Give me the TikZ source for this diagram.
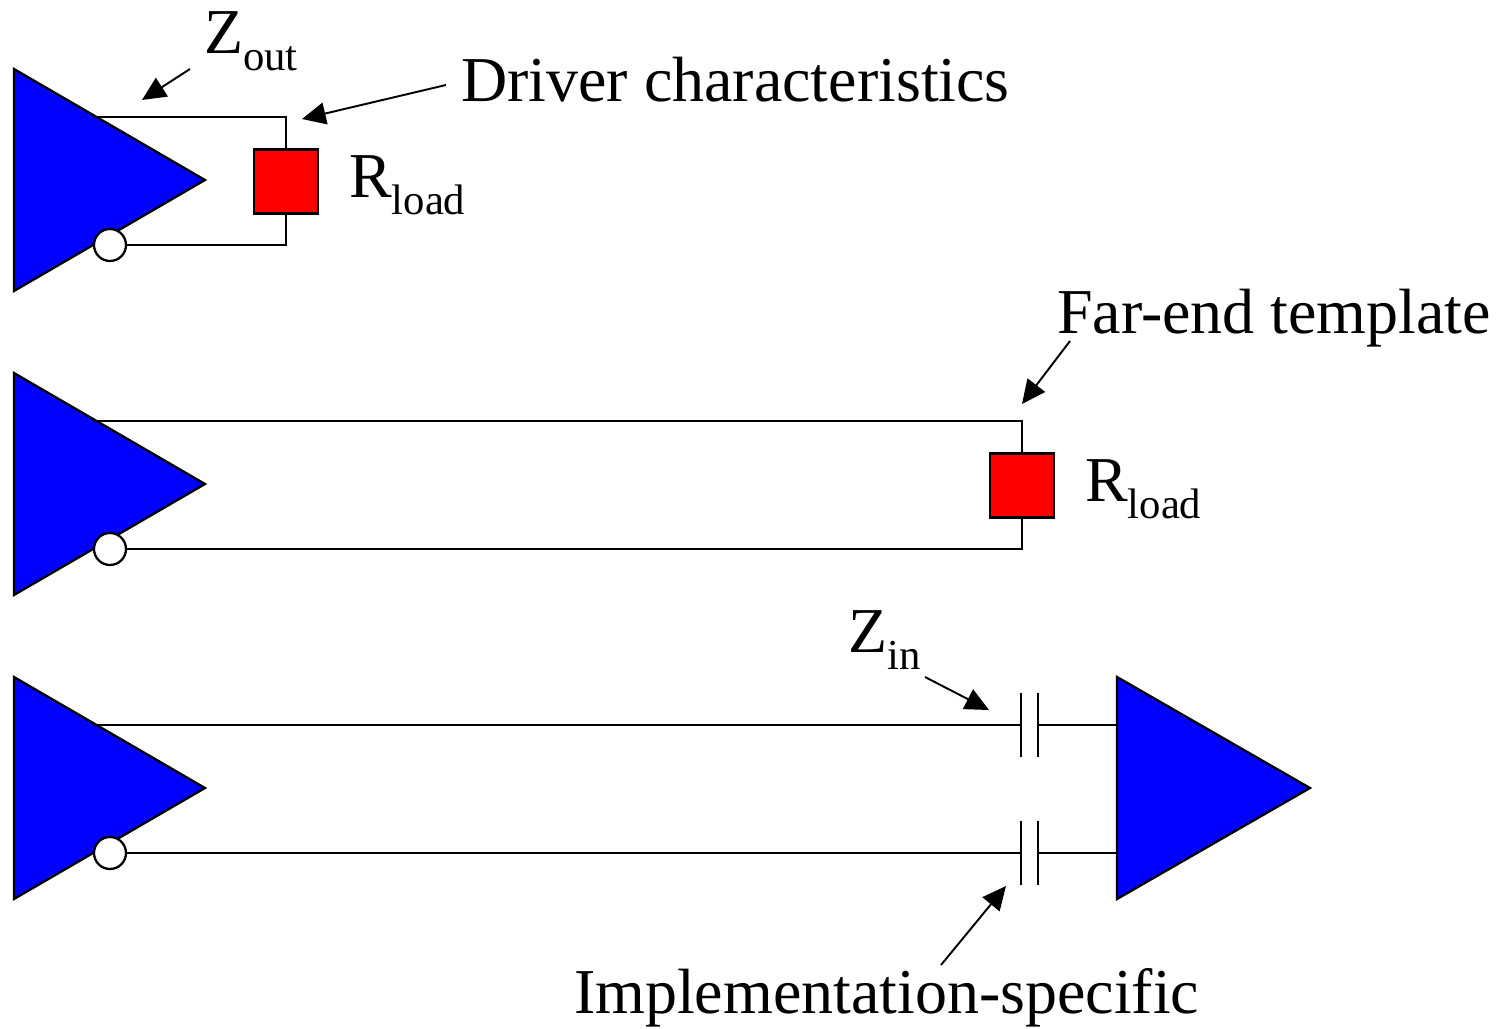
\documentclass[tikz,border=0pt]{standalone}
\usepackage{fontspec}
\setmainfont{Liberation Serif}
\usetikzlibrary{arrows.meta}
\newcommand{\sublabel}[2]{#1\raisebox{-10pt}{\fontsize{24.3}{24}\selectfont #2}}

\begin{document}
\begin{tikzpicture}[x=0.02cm,y=-0.02cm,line width=1.3pt,
        wire/.style={draw=black},
        driver/.style={draw=black,fill=blue,line join=miter},
        rload/.style={draw=black,fill=red,rectangle,minimum size=1.28cm,inner sep=0pt},
        bubble/.style={draw=black,fill=white,circle,minimum size=0.64cm,inner sep=0pt},
        callout/.style={-{Triangle[length=13.5pt,width=12.5pt]},draw=black,line width=1.1pt},
        lbl/.style={anchor=base west,inner sep=0pt,font=\fontsize{36.4}{40}\selectfont}]
        \useasboundingbox (0,0) rectangle (1501,1028);

        % Top driver with near-end load
        \draw[driver] (14,69) -- (14,291) -- (205,180) -- cycle;
        \coordinate (topa) at (94,117);
        \node[bubble] (buba) at (110,245) {};
        \node[rload] (loada) at (286,181.5) {};
        \draw[wire] (topa) -| (loada.north);
        \draw[wire] (buba.east) -| (loada.south);
        \node[lbl] (zout) at (203,53) {\sublabel{Z}{out}};
        \node[lbl] (rloada) at (348,197) {\sublabel{R}{load}};
        \node[lbl] (drvchar) at (460,101) {Driver characteristics};

        % Middle driver with far-end load
        \draw[driver] (14,373) -- (14,595) -- (205,484) -- cycle;
        \coordinate (topb) at (94,421);
        \node[bubble] (bubb) at (110,549) {};
        \node[rload] (loadb) at (1022,485.5) {};
        \draw[wire] (topb) -| (loadb.north);
        \draw[wire] (bubb.east) -| (loadb.south);
        \node[lbl] (rloadb) at (1084,501) {\sublabel{R}{load}};
        \node[lbl] (farend) at (1056,333) {Far-end template};

        % Bottom driver and receiver
        \draw[driver] (14,677) -- (14,899) -- (205,788) -- cycle;
        \draw[driver] (1117,677) -- (1117,899) -- (1310,788) -- cycle;
        \coordinate (topc) at (94,725);
        \node[bubble] (bubc) at (110,853) {};
        \coordinate (rxtop) at (1117,725);
        \coordinate (rxbot) at (1117,853);

        % Series capacitors
        \coordinate (capta) at (1021,725);
        \coordinate (captb) at (1038,725);
        \coordinate (capba) at (1021,853);
        \coordinate (capbb) at (1038,853);
        \draw[wire] (capta) ++(0,-32) -- ++(0,64);
        \draw[wire] (captb) ++(0,-32) -- ++(0,64);
        \draw[wire] (capba) ++(0,-32) -- ++(0,64);
        \draw[wire] (capbb) ++(0,-32) -- ++(0,64);
        \draw[wire] (topc) -- (capta);
        \draw[wire] (captb) -- (rxtop);
        \draw[wire] (bubc.east) -- (capba);
        \draw[wire] (capbb) -- (rxbot);
        \node[lbl] (zin) at (847,652) {\sublabel{Z}{in}};
        \node[lbl] (impl) at (573,1013) {Implementation-specific};

        % Callout arrows
        \coordinate (zoutfrom) at (190,69);
        \coordinate (zoutto) at (142,100);
        \coordinate (drvfrom) at (446,85);
        \coordinate (drvto) at (302,119);
        \coordinate (farfrom) at (1070,341);
        \coordinate (farto) at (1022,404);
        \coordinate (zinfrom) at (925,677);
        \coordinate (zinto) at (989,710);
        \coordinate (implfrom) at (941,965);
        \coordinate (implto) at (1006,886);
        \draw[callout] (zoutfrom) -- (zoutto);
        \draw[callout] (drvfrom) -- (drvto);
        \draw[callout] (farfrom) -- (farto);
        \draw[callout] (zinfrom) -- (zinto);
        \draw[callout] (implfrom) -- (implto);
    \end{tikzpicture}
\end{document}
